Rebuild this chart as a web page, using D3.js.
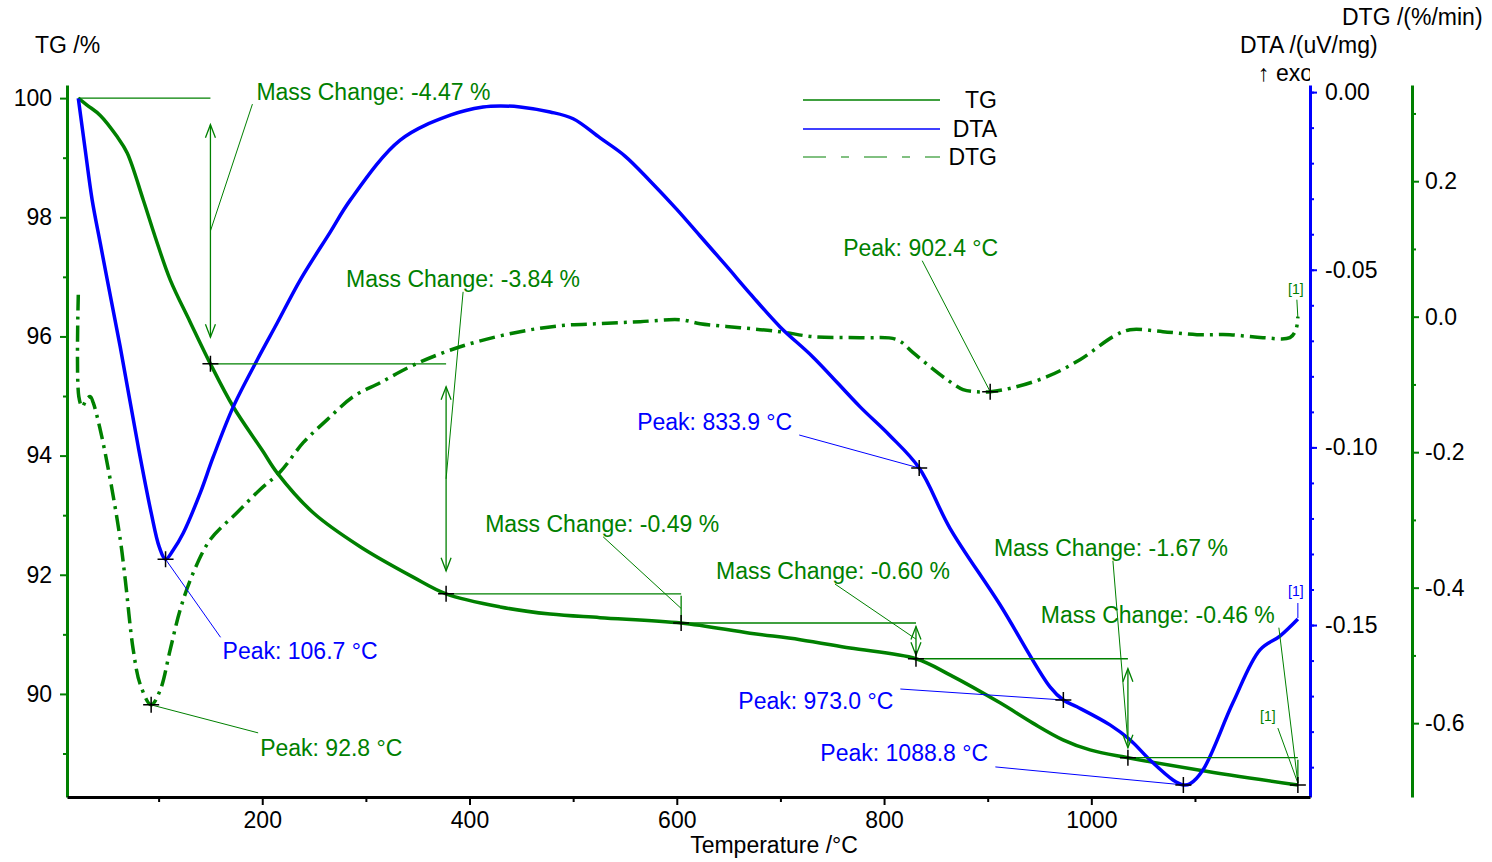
<!DOCTYPE html>
<html>
<head>
<meta charset="utf-8">
<script src="https://cdn.jsdelivr.net/npm/d3@7"></script>
<style>
  body { margin: 0; background: #fff; }
  text { font-family: "Liberation Sans", Arial, sans-serif; }
</style>
</head>
<body>
<div id="chart"></div>
<script>
// temperature (°C), value
const tgData = [
  [22.5, 100.0], [31.2, 99.88], [43.7, 99.71], [60.1, 99.35], [69.7, 99.08], [85.2, 98.29],
  [96.7, 97.67], [111.2, 96.95], [130.5, 96.24], [150.0, 95.54], [172.0, 94.82], [200.0, 94.09],
  [214.4, 93.71], [249.2, 93.04], [294.5, 92.47], [345.6, 91.96], [377.4, 91.68], [429.6, 91.46],
  [477.8, 91.34], [526.0, 91.28], [604.2, 91.19], [670.7, 91.02], [719.0, 90.91], [767.2, 90.77],
  [830.8, 90.59], [863.5, 90.32], [911.9, 89.85], [943.6, 89.51], [972.6, 89.23], [998.7, 89.06],
  [1035.3, 88.93], [1104.8, 88.72], [1199.3, 88.47]
]

const dtaData = [
  [22.5, -0.0017], [29.2, -0.0163], [35.9, -0.0304], [43.7, -0.0425], [50.5, -0.0529], [63.0, -0.0718],
  [80.4, -0.0999], [92.9, -0.1185], [100.6, -0.1280], [106.7, -0.1315], [114.1, -0.1289], [123.8, -0.1241],
  [140.2, -0.1128], [152.7, -0.1027], [172.0, -0.0886], [195.1, -0.0754], [214.4, -0.0650], [236.6, -0.0529],
  [265.6, -0.0394], [284.9, -0.0304], [333.1, -0.0135], [381.4, -0.0065], [413.1, -0.0042], [429.6, -0.0039],
  [448.8, -0.0042], [477.8, -0.0056], [500.0, -0.0075], [526.0, -0.0129], [550.0, -0.0180], [574.2, -0.0250],
  [600.0, -0.0330], [622.5, -0.0405], [648.0, -0.0490], [670.7, -0.0567], [699.7, -0.0661], [731.5, -0.0746],
  [776.9, -0.0886], [805.0, -0.0965], [833.9, -0.1058], [863.5, -0.1227], [911.9, -0.1443], [960.1, -0.1674],
  [973.0, -0.1711], [986.1, -0.1730], [1018.0, -0.1781], [1037.3, -0.1823], [1056.6, -0.1880], [1078.8, -0.1936],
  [1088.8, -0.1950], [1095.1, -0.1947], [1107.7, -0.1908], [1136.6, -0.1719], [1162.7, -0.1570], [1182.0, -0.1531],
  [1199.3, -0.1483]
]

const dtgData = [
  [22.5, 0.0325], [23.0, -0.118], [26.3, -0.133], [30.2, -0.1225], [34.1, -0.118], [36.9, -0.127],
  [43.7, -0.167], [53.4, -0.241], [63.0, -0.329], [67.8, -0.388], [75.5, -0.4915], [82.3, -0.543],
  [92.8, -0.573], [101.6, -0.551], [111.2, -0.4915], [120.9, -0.432], [133.4, -0.378], [149.9, -0.329],
  [175.8, -0.289], [198.0, -0.255], [217.4, -0.229], [239.5, -0.186], [262.7, -0.152], [287.8, -0.118],
  [313.8, -0.0974], [342.7, -0.0738], [374.6, -0.0531], [407.4, -0.0369], [448.8, -0.0221], [487.4, -0.0133],
  [526.0, -0.0103], [564.6, -0.0074], [603.2, -0.0044], [622.5, -0.0103], [661.1, -0.0162], [699.7, -0.0221],
  [731.5, -0.0295], [779.8, -0.0310], [812.5, -0.0340], [828.0, -0.0531], [844.4, -0.0738], [860.8, -0.0930],
  [876.2, -0.1077], [887.8, -0.1107], [902.4, -0.1107], [924.4, -0.1048], [957.2, -0.0886], [989.0, -0.0635],
  [1021.0, -0.0295], [1037.3, -0.0192], [1069.1, -0.0221], [1101.9, -0.0266], [1133.7, -0.0266], [1165.6, -0.0310],
  [1191.6, -0.0310], [1197.4, -0.0192], [1199.3, 0.0]
]

// TG steps: start temp, end temp, start mass, end mass
const massSteps = [
  [22.5, 150.0, 100.0, 95.54],
  [150.0, 377.4, 95.54, 91.68],
  [377.4, 604.2, 91.68, 91.19],
  [604.2, 830.8, 91.19, 90.59],
  [830.8, 1035.3, 90.59, 88.93],
  [1035.3, 1199.3, 88.93, 88.47]
]
const massLabels = ["Mass Change: -4.47 %", "Mass Change: -3.84 %", "Mass Change: -0.49 %",
  "Mass Change: -0.60 %", "Mass Change: -1.67 %", "Mass Change: -0.46 %"]

// peak: series, temp, value
const peaks = [
  ["DTA", 106.7, -0.1315],
  ["DTG", 92.8, -0.573],
  ["DTG", 902.4, -0.1107],
  ["DTA", 833.9, -0.1058],
  ["DTA", 973.0, -0.1711],
  ["DTA", 1088.8, -0.1950]
]
const peakLabels = ["Peak: 106.7 °C", "Peak: 92.8 °C", "Peak: 902.4 °C", "Peak: 833.9 °C", "Peak: 973.0 °C", "Peak: 1088.8 °C"]

const xTicks = [200, 400, 600, 800, 1000]
const xMinor = [100, 300, 500, 700, 900, 1100]
const tgTicks = [90, 92, 94, 96, 98, 100]
const tgMinor = [89, 91, 93, 95, 97, 99]
const dtaTicks = [0, -0.05, -0.10, -0.15]
const dtaMinor = d3.range(-19, 1).map(d => d / 100)
const dtgTicks = [0.2, 0.0, -0.2, -0.4, -0.6]
const dtgMinor = [0.3, 0.1, -0.1, -0.3, -0.5]

// layout of the annotation texts (pixel offsets)
const massLayout = [
  { dx: 46, dy: -6, lx: 42, ly: 6, f: 0.5 },
  { dx: -100, dy: -85, lx: 17, ly: -72, f: 0.5 },
  { dx: -196, dy: -70, lx: -78, ly: -57, f: 0.5 },
  { dx: -200, dy: -52, lx: -81, ly: -39, f: 0.45 },
  { dx: -134, dy: -111, lx: -15, ly: -98, f: 0.85 },
  { dx: -257, dy: -143, lx: -19, ly: -130, f: 0.93 }
]
const peakLayout = [
  { dx: 57, dy: 92, lx: 55, ly: 78 },
  { dx: 109, dy: 43, lx: 107, ly: 28 },
  { dx: -147, dy: -144, lx: -68, ly: -131 },
  { dx: -282, dy: -46, lx: -120, ly: -33 },
  { dx: -325, dy: 1, lx: -163, ly: -11 },
  { dx: -363, dy: -32, lx: -188, ly: -18 }
]

const GREEN = "#008000"
const BLUE = "#0000ff"
const FS = 23

const width = 1492
const height = 862

const svg = d3.select("#chart")
  .append("svg")
  .attr("width", width)
  .attr("height", height)

const x = d3.scaleLinear().domain([11.6, 1211]).range([67, 1310])
const yTG = d3.scaleLinear().domain([88.27, 100.22]).range([797, 85])
const yDTA = d3.scaleLinear().domain([-0.1984, 0.002]).range([797, 85])
const yDTG = d3.scaleLinear().domain([-0.709, 0.342]).range([797, 85])
const yOf = { TG: yTG, DTA: yDTA, DTG: yDTG }

function styleAxis(g, color) {
  g.select(".domain").attr("stroke", color).attr("stroke-width", 3)
  g.selectAll(".tick line").attr("stroke", color).attr("stroke-width", 2)
  g.selectAll(".tick text").attr("fill", "#000").style("font-size", FS + "px")
    .style("font-family", "'Liberation Sans', Arial, sans-serif")
}

// minor ticks first
svg.append("g").attr("transform", "translate(0,797)")
  .call(d3.axisBottom(x).tickValues(xMinor).tickSize(5).tickFormat(""))
  .call(g => { g.select(".domain").remove(); g.selectAll("line").attr("stroke", "#000").attr("stroke-width", 2) })
svg.append("g").attr("transform", "translate(67,0)")
  .call(d3.axisLeft(yTG).tickValues(tgMinor).tickSize(4).tickFormat(""))
  .call(g => { g.select(".domain").remove(); g.selectAll("line").attr("stroke", GREEN).attr("stroke-width", 2) })
svg.append("g").attr("transform", "translate(1310,0)")
  .call(d3.axisRight(yDTA).tickValues(dtaMinor).tickSize(4).tickFormat(""))
  .call(g => { g.select(".domain").remove(); g.selectAll("line").attr("stroke", BLUE).attr("stroke-width", 2) })
svg.append("g").attr("transform", "translate(1412,0)")
  .call(d3.axisRight(yDTG).tickValues(dtgMinor).tickSize(4).tickFormat(""))
  .call(g => { g.select(".domain").remove(); g.selectAll("line").attr("stroke", GREEN).attr("stroke-width", 2) })

svg.append("g").attr("transform", "translate(67,0)")
  .call(d3.axisLeft(yTG).tickValues(tgTicks).tickSize(7).tickSizeOuter(0).tickPadding(8).tickFormat(d => d))
  .call(g => styleAxis(g, GREEN))
svg.append("g").attr("transform", "translate(1310,0)")
  .call(d3.axisRight(yDTA).tickValues(dtaTicks).tickSize(7).tickSizeOuter(0).tickPadding(8).tickFormat(d => d.toFixed(2)))
  .call(g => styleAxis(g, BLUE))
svg.append("g").attr("transform", "translate(1412,0)")
  .call(d3.axisRight(yDTG).tickValues(dtgTicks).tickSize(7).tickSizeOuter(0).tickPadding(6).tickFormat(d => d.toFixed(1)))
  .call(g => styleAxis(g, GREEN))
svg.append("g").attr("transform", "translate(0,797)")
  .call(d3.axisBottom(x).tickValues(xTicks).tickSize(8).tickSizeOuter(0).tickPadding(7).tickFormat(d => d))
  .call(g => styleAxis(g, "#000"))

// axis titles
const title = (t, px, py, anchor) => svg.append("text").text(t)
  .attr("x", px).attr("y", py).attr("dy", "0.35em")
  .attr("text-anchor", anchor || "start")
  .style("font-size", FS + "px").attr("fill", "#000")
title("TG /%", 35, 45)
title("DTA /(uV/mg)", 1240, 45)
title("DTG /(%/min)", 1342, 17)
title("Temperature /°C", 774, 845, "middle")
svg.append("clipPath").attr("id", "exoclip").append("rect")
  .attr("x", 0).attr("y", 0).attr("width", 1310).attr("height", 100)
title("↑ exo", 1258, 73).attr("clip-path", "url(#exoclip)")

// curves
const lineOf = y => d3.line().x(d => x(d[0])).y(d => y(d[1])).curve(d3.curveCatmullRom.alpha(0.5))

svg.append("path").datum(dtgData)
  .attr("d", lineOf(yDTG))
  .attr("fill", "none").attr("stroke", GREEN).attr("stroke-width", 3.5)
  .attr("stroke-dasharray", "16,6,3,6")
svg.append("path").datum(tgData)
  .attr("d", lineOf(yTG))
  .attr("fill", "none").attr("stroke", GREEN).attr("stroke-width", 3.5)
svg.append("path").datum(dtaData)
  .attr("d", lineOf(yDTA))
  .attr("fill", "none").attr("stroke", BLUE).attr("stroke-width", 3.5)

// mass change annotations
const ann = svg.append("g").attr("fill", "none")
massSteps.forEach((s, i) => {
  const [t0, t1, m0, m1] = s
  const L = massLayout[i]
  const px = x(t1), yA = yTG(m0), yB = yTG(m1)
  ann.append("line").attr("x1", x(t0)).attr("x2", px).attr("y1", yA).attr("y2", yA)
    .attr("stroke", GREEN).attr("stroke-width", 1.3)
  const len = yB - yA
  const gap = len > 30 ? len * 0.1 : 2
  const top = yA + gap, bot = yB - gap
  ann.append("line").attr("x1", px).attr("x2", px).attr("y1", top).attr("y2", bot)
    .attr("stroke", GREEN).attr("stroke-width", 1.3)
  if (len > 30) {
    ann.append("path").attr("d", `M${px - 5},${top + 13}L${px},${top}L${px + 5},${top + 13}`)
      .attr("stroke", GREEN).attr("stroke-width", 1.3)
    ann.append("path").attr("d", `M${px - 5},${bot - 13}L${px},${bot}L${px + 5},${bot - 13}`)
      .attr("stroke", GREEN).attr("stroke-width", 1.3)
  }
  ann.append("line").attr("x1", px + L.lx).attr("y1", yA + L.ly)
    .attr("x2", px).attr("y2", yA + len * L.f)
    .attr("stroke", GREEN).attr("stroke-width", 1)
  svg.append("text").text(massLabels[i])
    .attr("x", px + L.dx).attr("y", yA + L.dy).attr("dy", "0.35em")
    .attr("fill", GREEN).style("font-size", FS + "px")
})

// peak annotations
peaks.forEach((p, i) => {
  const [series, t, v] = p
  const L = peakLayout[i]
  const px = x(t), py = yOf[series](v)
  const col = series === "DTA" ? BLUE : GREEN
  ann.append("line").attr("x1", px + L.lx).attr("y1", py + L.ly).attr("x2", px).attr("y2", py)
    .attr("stroke", col).attr("stroke-width", 1)
  svg.append("text").text(peakLabels[i])
    .attr("x", px + L.dx).attr("y", py + L.dy).attr("dy", "0.35em")
    .attr("fill", col).style("font-size", FS + "px")
})

// end markers [1]
const endMarks = [
  { y: yDTG, d: dtgData, col: GREEN, dx: -2, dy: -28, l1: -17, l2: 1, lx: -1 },
  { y: yDTA, d: dtaData, col: BLUE, dx: -2, dy: -28, l1: -16, l2: -1, lx: 0 },
  { y: yTG, d: tgData, col: GREEN, dx: -30, dy: -69, l1: -57, l2: -2, lx: -20 }
]
endMarks.forEach(m => {
  const last = m.d[m.d.length - 1]
  const px = x(last[0]), py = m.y(last[1])
  ann.append("line").attr("x1", px + m.lx).attr("y1", py + m.l1).attr("x2", px).attr("y2", py + m.l2)
    .attr("stroke", m.col).attr("stroke-width", 1)
  svg.append("text").text("[1]")
    .attr("x", px + m.dx).attr("y", py + m.dy).attr("dy", "0.35em")
    .attr("text-anchor", "middle")
    .attr("fill", m.col).style("font-size", "14px")
})

// crosses at evaluated points
const crossPts = massSteps.map(s => [x(s[1]), yTG(s[3])])
  .concat(peaks.map(p => [x(p[1]), yOf[p[0]](p[2])]))
svg.append("g").selectAll("path")
  .data(crossPts)
  .join("path")
  .attr("d", d => `M${d[0] - 8},${d[1]}H${d[0] + 8}M${d[0]},${d[1] - 8}V${d[1] + 8}`)
  .attr("stroke", "#000").attr("stroke-width", 1.5).attr("fill", "none")

// legend
const legendItems = [
  ["TG", GREEN, null, 100],
  ["DTA", BLUE, null, 129],
  ["DTG", GREEN, "23,15,8,15", 157]
]
const legend = svg.append("g")
legendItems.forEach(([name, col, dash, ly]) => {
  legend.append("line").attr("x1", 803).attr("x2", 940).attr("y1", ly).attr("y2", ly)
    .attr("stroke", col).attr("stroke-width", 1.5)
    .attr("stroke-dasharray", dash)
    .attr("opacity", dash ? 0.65 : 1)
  legend.append("text").text(name)
    .attr("x", 997).attr("y", ly).attr("dy", "0.35em")
    .attr("text-anchor", "end").attr("fill", "#000")
    .style("font-size", FS + "px")
})
</script>
</body>
</html>
